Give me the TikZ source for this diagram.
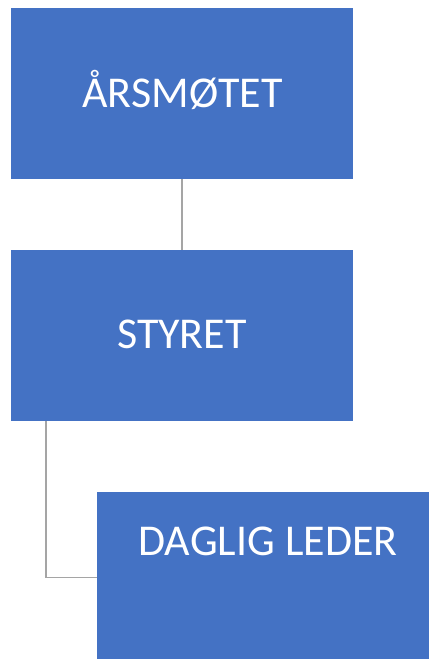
\documentclass[tikz,border=0pt]{standalone}
\usepackage{fontspec}
\setmainfont{Carlito}
\definecolor{boxblue}{HTML}{4472C4}
\definecolor{linegrey}{HTML}{A5A5A5}
\begin{document}
\begin{tikzpicture}[x=1pt,y=-1pt,
  orgbox/.style={fill=boxblue,draw=none,inner sep=0pt,minimum width=342pt,minimum height=171pt},
  boxtext/.style={text=white,font=\fontsize{44}{50}\selectfont,inner sep=0pt,anchor=base},
  conn/.style={draw=linegrey,line width=1.4pt}]
\useasboundingbox (0,0) rectangle (429,659);
\node[orgbox] (a) at (182,93.5) {};
\node[orgbox] (s) at (182,335.5) {};
\node[orgbox,minimum width=332pt,minimum height=167pt] (d) at (263,575.5) {};
\node[boxtext] (at) at (182.5,107) {ÅRSMØTET};
\node[boxtext] (st) at (182,348.5) {STYRET};
\node[boxtext] (dt) at (268,555.5) {DAGLIG LEDER};
\coordinate (c1) at (46,421);
\coordinate (c2) at (46,577.5);
\draw[conn] (a.south) -- (s.north);
\draw[conn] (c1) -- (c2) -- (d.west |- c2);
\end{tikzpicture}
\end{document}
